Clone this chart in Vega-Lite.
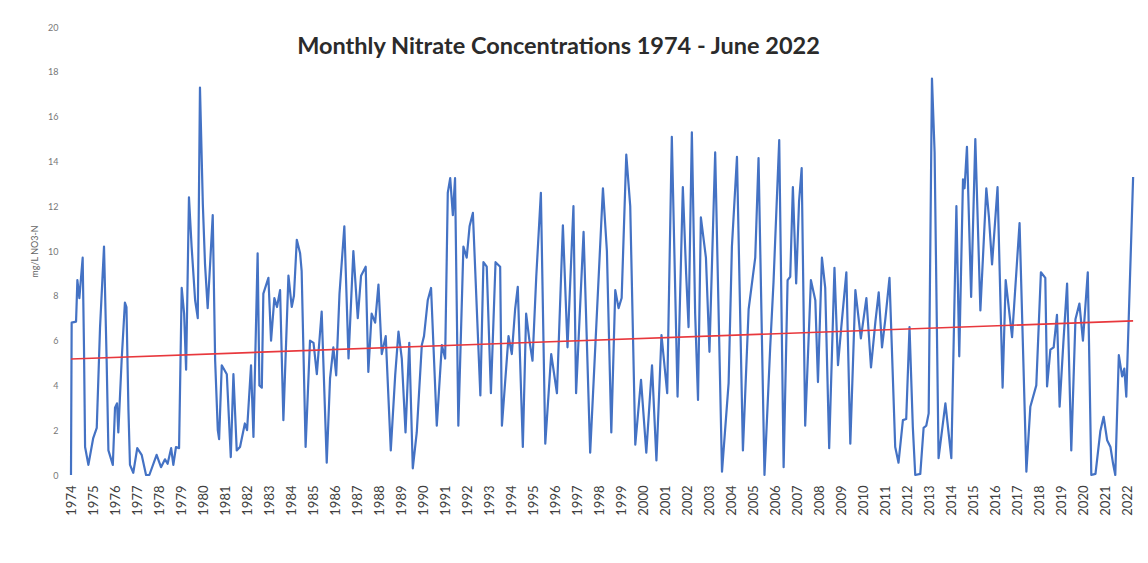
{
  "$schema": "https://vega.github.io/schema/vega-lite/v6.json",
  "width": 1063,
  "height": 448,
  "autosize": {"type": "none"},
  "padding": {"left": 71, "top": 27, "right": 14, "bottom": 88},
  "background": "white",
  "config": {"view": {"stroke": null}, "font": "Lato"},
  "title": {
    "text": "Monthly Nitrate Concentrations 1974 - June 2022",
    "font": "Lato",
    "fontSize": 23.5,
    "fontWeight": "bold",
    "color": "#2b2b2b",
    "anchor": "middle",
    "baseline": "alphabetic",
    "offset": -54,
    "dx": -44
  },
  "datasets": {
    "nitrate": [
      {"year": 1974.00, "value": 0},
      {"year": 1974.03, "value": 6.8},
      {"year": 1974.23, "value": 6.85},
      {"year": 1974.29, "value": 8.7},
      {"year": 1974.38, "value": 7.9},
      {"year": 1974.53, "value": 9.7},
      {"year": 1974.59, "value": 5.7},
      {"year": 1974.64, "value": 1.25},
      {"year": 1974.79, "value": 0.45},
      {"year": 1975.01, "value": 1.65},
      {"year": 1975.17, "value": 2.1},
      {"year": 1975.32, "value": 6.6},
      {"year": 1975.50, "value": 10.2},
      {"year": 1975.62, "value": 5.1},
      {"year": 1975.70, "value": 1.1},
      {"year": 1975.90, "value": 0.45},
      {"year": 1976.00, "value": 3.0},
      {"year": 1976.09, "value": 3.2},
      {"year": 1976.15, "value": 1.9},
      {"year": 1976.30, "value": 5.1},
      {"year": 1976.45, "value": 7.7},
      {"year": 1976.52, "value": 7.5},
      {"year": 1976.61, "value": 2.9},
      {"year": 1976.68, "value": 0.45},
      {"year": 1976.83, "value": 0.1},
      {"year": 1977.01, "value": 1.2},
      {"year": 1977.21, "value": 0.9},
      {"year": 1977.41, "value": 0.0},
      {"year": 1977.56, "value": 0.0},
      {"year": 1977.89, "value": 0.9},
      {"year": 1978.09, "value": 0.35},
      {"year": 1978.27, "value": 0.7},
      {"year": 1978.39, "value": 0.5},
      {"year": 1978.55, "value": 1.2},
      {"year": 1978.65, "value": 0.45},
      {"year": 1978.77, "value": 1.25},
      {"year": 1978.91, "value": 1.2},
      {"year": 1979.03, "value": 8.35},
      {"year": 1979.14, "value": 7.2},
      {"year": 1979.23, "value": 4.7},
      {"year": 1979.36, "value": 12.4},
      {"year": 1979.48, "value": 10.2},
      {"year": 1979.64, "value": 7.8},
      {"year": 1979.76, "value": 7.0},
      {"year": 1979.86, "value": 17.3},
      {"year": 1979.99, "value": 12.1},
      {"year": 1980.09, "value": 9.4},
      {"year": 1980.21, "value": 7.45},
      {"year": 1980.32, "value": 9.4},
      {"year": 1980.44, "value": 11.6},
      {"year": 1980.55, "value": 5.1},
      {"year": 1980.67, "value": 2.0},
      {"year": 1980.73, "value": 1.6},
      {"year": 1980.85, "value": 4.9},
      {"year": 1981.08, "value": 4.5},
      {"year": 1981.26, "value": 0.8},
      {"year": 1981.38, "value": 4.5},
      {"year": 1981.53, "value": 1.1},
      {"year": 1981.68, "value": 1.25},
      {"year": 1981.90, "value": 2.3},
      {"year": 1982.00, "value": 2.0},
      {"year": 1982.18, "value": 4.9},
      {"year": 1982.29, "value": 1.7},
      {"year": 1982.48, "value": 9.9},
      {"year": 1982.56, "value": 4.0},
      {"year": 1982.67, "value": 3.9},
      {"year": 1982.74, "value": 8.1},
      {"year": 1982.97, "value": 8.8},
      {"year": 1983.09, "value": 6.0},
      {"year": 1983.24, "value": 7.9},
      {"year": 1983.36, "value": 7.5},
      {"year": 1983.50, "value": 8.25},
      {"year": 1983.65, "value": 2.45},
      {"year": 1983.88, "value": 8.9},
      {"year": 1984.03, "value": 7.5},
      {"year": 1984.13, "value": 8.0},
      {"year": 1984.26, "value": 10.5},
      {"year": 1984.41, "value": 9.9},
      {"year": 1984.48, "value": 9.1},
      {"year": 1984.66, "value": 1.25},
      {"year": 1984.86, "value": 6.0},
      {"year": 1985.02, "value": 5.9},
      {"year": 1985.17, "value": 4.5},
      {"year": 1985.39, "value": 7.3},
      {"year": 1985.62, "value": 0.55},
      {"year": 1985.77, "value": 4.3},
      {"year": 1985.92, "value": 5.7},
      {"year": 1986.05, "value": 4.45},
      {"year": 1986.20, "value": 8.1},
      {"year": 1986.42, "value": 11.1},
      {"year": 1986.61, "value": 5.2},
      {"year": 1986.83, "value": 10.0},
      {"year": 1987.03, "value": 7.0},
      {"year": 1987.18, "value": 8.9},
      {"year": 1987.39, "value": 9.3},
      {"year": 1987.51, "value": 4.6},
      {"year": 1987.66, "value": 7.2},
      {"year": 1987.82, "value": 6.8},
      {"year": 1987.97, "value": 8.5},
      {"year": 1988.12, "value": 5.4},
      {"year": 1988.30, "value": 6.2},
      {"year": 1988.53, "value": 1.1},
      {"year": 1988.73, "value": 4.45},
      {"year": 1988.88, "value": 6.4},
      {"year": 1989.03, "value": 5.2},
      {"year": 1989.20, "value": 1.9},
      {"year": 1989.37, "value": 5.9},
      {"year": 1989.53, "value": 0.3},
      {"year": 1989.71, "value": 1.9},
      {"year": 1989.94, "value": 5.8},
      {"year": 1990.04, "value": 6.2},
      {"year": 1990.21, "value": 7.8},
      {"year": 1990.36, "value": 8.35},
      {"year": 1990.62, "value": 2.2},
      {"year": 1990.85, "value": 5.8},
      {"year": 1991.00, "value": 5.2},
      {"year": 1991.12, "value": 12.6},
      {"year": 1991.23, "value": 13.25},
      {"year": 1991.35, "value": 11.6},
      {"year": 1991.45, "value": 13.25},
      {"year": 1991.60, "value": 2.2},
      {"year": 1991.83, "value": 10.2},
      {"year": 1991.98, "value": 9.7},
      {"year": 1992.11, "value": 11.1},
      {"year": 1992.26, "value": 11.7},
      {"year": 1992.60, "value": 3.55},
      {"year": 1992.74, "value": 9.5},
      {"year": 1992.89, "value": 9.3},
      {"year": 1993.08, "value": 3.65},
      {"year": 1993.29, "value": 9.5},
      {"year": 1993.50, "value": 9.3},
      {"year": 1993.58, "value": 2.2},
      {"year": 1993.88, "value": 6.2},
      {"year": 1994.03, "value": 5.4},
      {"year": 1994.18, "value": 7.4},
      {"year": 1994.30, "value": 8.4},
      {"year": 1994.53, "value": 1.25},
      {"year": 1994.68, "value": 7.2},
      {"year": 1994.83, "value": 6.0},
      {"year": 1994.97, "value": 5.1},
      {"year": 1995.14, "value": 8.85},
      {"year": 1995.35, "value": 12.6},
      {"year": 1995.55, "value": 1.4},
      {"year": 1995.82, "value": 5.4},
      {"year": 1996.08, "value": 3.65},
      {"year": 1996.35, "value": 11.15},
      {"year": 1996.56, "value": 5.7},
      {"year": 1996.83, "value": 12.0},
      {"year": 1996.95, "value": 3.65},
      {"year": 1997.29, "value": 10.85},
      {"year": 1997.59, "value": 1.0},
      {"year": 1998.17, "value": 12.8},
      {"year": 1998.35, "value": 10.0},
      {"year": 1998.55, "value": 1.9},
      {"year": 1998.73, "value": 8.25},
      {"year": 1998.88, "value": 7.45},
      {"year": 1999.02, "value": 7.9},
      {"year": 1999.23, "value": 14.3},
      {"year": 1999.41, "value": 12.0},
      {"year": 1999.64, "value": 1.35},
      {"year": 1999.90, "value": 4.25},
      {"year": 2000.14, "value": 1.0},
      {"year": 2000.40, "value": 4.9},
      {"year": 2000.60, "value": 0.65},
      {"year": 2000.83, "value": 6.25},
      {"year": 2001.09, "value": 3.65},
      {"year": 2001.30, "value": 15.1},
      {"year": 2001.56, "value": 3.5},
      {"year": 2001.80, "value": 12.85},
      {"year": 2001.95, "value": 9.0},
      {"year": 2002.06, "value": 6.6},
      {"year": 2002.21, "value": 15.3},
      {"year": 2002.36, "value": 7.2},
      {"year": 2002.49, "value": 3.35},
      {"year": 2002.62, "value": 11.5},
      {"year": 2002.85, "value": 9.7},
      {"year": 2003.01, "value": 5.5},
      {"year": 2003.27, "value": 14.4},
      {"year": 2003.58, "value": 0.15},
      {"year": 2003.88, "value": 4.1},
      {"year": 2004.03, "value": 10.2},
      {"year": 2004.26, "value": 14.2},
      {"year": 2004.53, "value": 1.1},
      {"year": 2004.79, "value": 7.4},
      {"year": 2005.09, "value": 9.7},
      {"year": 2005.24, "value": 14.15},
      {"year": 2005.51, "value": 0.0},
      {"year": 2005.77, "value": 5.7},
      {"year": 2005.92, "value": 8.6},
      {"year": 2006.18, "value": 14.95},
      {"year": 2006.38, "value": 0.35},
      {"year": 2006.56, "value": 8.7},
      {"year": 2006.68, "value": 8.85},
      {"year": 2006.80, "value": 12.85},
      {"year": 2006.95, "value": 8.55},
      {"year": 2007.08, "value": 12.2},
      {"year": 2007.20, "value": 13.7},
      {"year": 2007.36, "value": 2.2},
      {"year": 2007.62, "value": 8.7},
      {"year": 2007.82, "value": 7.8},
      {"year": 2007.94, "value": 4.15},
      {"year": 2008.12, "value": 9.7},
      {"year": 2008.27, "value": 8.35},
      {"year": 2008.45, "value": 1.2},
      {"year": 2008.69, "value": 9.25},
      {"year": 2008.85, "value": 4.9},
      {"year": 2009.00, "value": 6.6},
      {"year": 2009.23, "value": 9.05},
      {"year": 2009.41, "value": 1.4},
      {"year": 2009.64, "value": 8.25},
      {"year": 2009.89, "value": 6.1},
      {"year": 2010.14, "value": 7.9},
      {"year": 2010.35, "value": 4.8},
      {"year": 2010.55, "value": 6.85},
      {"year": 2010.70, "value": 8.15},
      {"year": 2010.85, "value": 5.7},
      {"year": 2011.00, "value": 6.95},
      {"year": 2011.19, "value": 8.8},
      {"year": 2011.45, "value": 1.25},
      {"year": 2011.60, "value": 0.55},
      {"year": 2011.80, "value": 2.45},
      {"year": 2011.95, "value": 2.5},
      {"year": 2012.10, "value": 6.6},
      {"year": 2012.25, "value": 2.15},
      {"year": 2012.36, "value": 0.0},
      {"year": 2012.59, "value": 0.05},
      {"year": 2012.74, "value": 2.1},
      {"year": 2012.86, "value": 2.2},
      {"year": 2012.97, "value": 2.75},
      {"year": 2013.12, "value": 17.7},
      {"year": 2013.24, "value": 14.4},
      {"year": 2013.42, "value": 0.75},
      {"year": 2013.73, "value": 3.2},
      {"year": 2014.00, "value": 0.75},
      {"year": 2014.23, "value": 12.0},
      {"year": 2014.36, "value": 5.3},
      {"year": 2014.53, "value": 13.2},
      {"year": 2014.60, "value": 12.8},
      {"year": 2014.71, "value": 14.65},
      {"year": 2014.90, "value": 7.95},
      {"year": 2015.09, "value": 15.0},
      {"year": 2015.32, "value": 7.35},
      {"year": 2015.59, "value": 12.8},
      {"year": 2015.71, "value": 11.5},
      {"year": 2015.85, "value": 9.4},
      {"year": 2016.10, "value": 12.85},
      {"year": 2016.33, "value": 3.9},
      {"year": 2016.47, "value": 8.7},
      {"year": 2016.76, "value": 6.15},
      {"year": 2017.10, "value": 11.25},
      {"year": 2017.41, "value": 0.15},
      {"year": 2017.59, "value": 3.05},
      {"year": 2017.86, "value": 4.0},
      {"year": 2018.07, "value": 9.05},
      {"year": 2018.27, "value": 8.8},
      {"year": 2018.35, "value": 3.95},
      {"year": 2018.50, "value": 5.6},
      {"year": 2018.65, "value": 5.7},
      {"year": 2018.80, "value": 7.15},
      {"year": 2018.92, "value": 3.05},
      {"year": 2019.09, "value": 5.9},
      {"year": 2019.26, "value": 8.55},
      {"year": 2019.45, "value": 1.1},
      {"year": 2019.64, "value": 6.95},
      {"year": 2019.82, "value": 7.65},
      {"year": 2019.98, "value": 6.0},
      {"year": 2020.20, "value": 9.05},
      {"year": 2020.36, "value": 0.0},
      {"year": 2020.55, "value": 0.05},
      {"year": 2020.77, "value": 1.95},
      {"year": 2020.92, "value": 2.6},
      {"year": 2021.08, "value": 1.55},
      {"year": 2021.23, "value": 1.25},
      {"year": 2021.35, "value": 0.5},
      {"year": 2021.45, "value": 0.0},
      {"year": 2021.61, "value": 5.35},
      {"year": 2021.76, "value": 4.4},
      {"year": 2021.86, "value": 4.75},
      {"year": 2021.95, "value": 3.5},
      {"year": 2022.26, "value": 13.3}
    ],
    "trend": [
      {"year": 1974.0, "value": 5.18},
      {"year": 2022.26, "value": 6.88}
    ]
  },
  "encoding": {
    "x": {
      "field": "year",
      "type": "quantitative",
      "scale": {"domain": [1974, 2022.3], "nice": false, "zero": false},
      "axis": {
        "title": null,
        "values": [1974,1975,1976,1977,1978,1979,1980,1981,1982,1983,1984,1985,1986,1987,1988,1989,1990,1991,1992,1993,1994,1995,1996,1997,1998,1999,2000,2001,2002,2003,2004,2005,2006,2007,2008,2009,2010,2011,2012,2013,2014,2015,2016,2017,2018,2019,2020,2021,2022],
        "format": "d",
        "labelAngle": -90,
        "labelFontSize": 13,
        "labelColor": "#404040",
        "labelPadding": 10,
        "labelOverlap": false,
        "labelFlush": false,
        "domain": false,
        "ticks": false,
        "grid": false
      }
    },
    "y": {
      "field": "value",
      "type": "quantitative",
      "scale": {"domain": [0, 20], "nice": false},
      "axis": {
        "title": "mg/L NO3-N",
        "titleFontSize": 9,
        "titleFontWeight": "normal",
        "titleColor": "#666666",
        "titlePadding": 8,
        "values": [0,2,4,6,8,10,12,14,16,18,20],
        "labelFontSize": 9,
        "labelColor": "#777777",
        "labelPadding": 13,
        "domain": false,
        "ticks": false,
        "grid": false
      }
    }
  },
  "layer": [
    {
      "data": {"name": "nitrate"},
      "mark": {"type": "line", "color": "#4472C4", "strokeWidth": 2.2, "strokeJoin": "round"}
    },
    {
      "data": {"name": "trend"},
      "mark": {"type": "line", "color": "#E8383D", "strokeWidth": 1.6}
    }
  ]
}
